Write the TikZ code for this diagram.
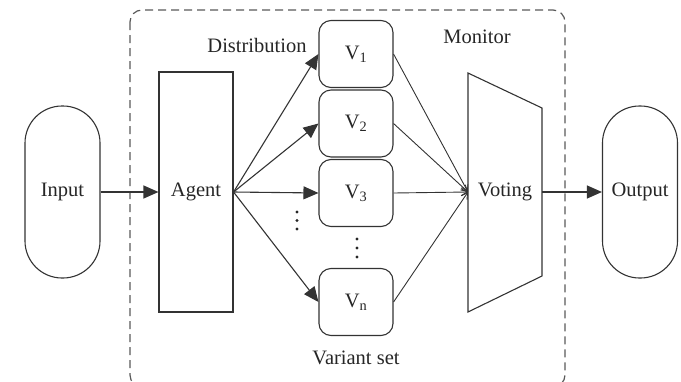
\documentclass[tikz,border=0pt]{standalone}
\usepackage{fontspec}
\setmainfont{Liberation Serif}
\usetikzlibrary{arrows.meta}
\tikzset{
  line/.style={draw=black!80, line width=1.1pt},
  stadium/.style={line, rectangle, rounded corners=37pt, minimum width=75pt, minimum height=172pt, inner sep=0pt},
  vbox/.style={line, rectangle, rounded corners=12pt, minimum width=74pt, minimum height=67pt, inner sep=0pt},
  lbl/.style={font=\fontsize{20.5}{24}\selectfont, text=black!85},
  bigarrow/.style={line, -{Triangle[length=15pt,width=13pt]}},
  thinarrow/.style={line, line width=0.9pt, -{Straight Barb[length=6pt,width=7pt]}},
  dot/.style={fill=black!85}
}
\begin{document}
\begin{tikzpicture}[x=1pt,y=-1pt]
\useasboundingbox (0,0) rectangle (681,381);
% dashed frame
\draw[draw=black!65, line width=1.2pt, dash pattern=on 8pt off 5pt, rounded corners=12pt] (130,10) rectangle (565,387);
% nodes
\node[stadium, lbl] (input) at (62.5,192) {Input};
\node[stadium, lbl] (output) at (640,192) {Output};
\node[line, rectangle, minimum width=74pt, minimum height=240pt, inner sep=0pt, lbl] (agent) at (196,192) {Agent};
\node[vbox, lbl] (v1) at (356,54) {V\textsubscript{1}};
\node[vbox, lbl] (v2) at (356,123.5) {V\textsubscript{2}};
\node[vbox, lbl] (v3) at (356,193) {V\textsubscript{3}};
\node[vbox, lbl] (vn) at (356,302) {V\textsubscript{n}};
% voting trapezoid
\coordinate (vtl) at (468,73);
\coordinate (vtr) at (542,108);
\coordinate (vbr) at (542,276);
\coordinate (vbl) at (468,312);
\draw[line] (vtl) -- (vtr) -- (vbr) -- (vbl) -- cycle;
\node[lbl] (voting) at (505,192) {Voting};
\coordinate (vin) at (468,192);
\coordinate (vout) at (542,192);
% labels
\node[lbl] (dist) at (257,45) {Distribution};
\node[lbl] (mon) at (477,37) {Monitor};
\node[lbl] (vset) at (356,358) {Variant set};
% arrows
\draw[bigarrow] (input.east) -- (agent.west);
\draw[bigarrow] (agent.east) -- (v1.west);
\draw[bigarrow] (agent.east) -- (v2.west);
\draw[bigarrow] (agent.east) -- (v3.west);
\draw[bigarrow] (agent.east) -- (vn.west);
\draw[thinarrow] (v1.east) -- (vin);
\draw[thinarrow] (v2.east) -- (vin);
\draw[thinarrow] (v3.east) -- (vin);
\draw[thinarrow] (vn.east) -- (vin);
\draw[bigarrow] (vout) -- (output.west);
% dots
\foreach \y in {212,220.5,229} \fill[dot] (297,\y) circle (1.6pt);
\foreach \y in {239,248,257} \fill[dot] (357,\y) circle (1.6pt);
\end{tikzpicture}
\end{document}
